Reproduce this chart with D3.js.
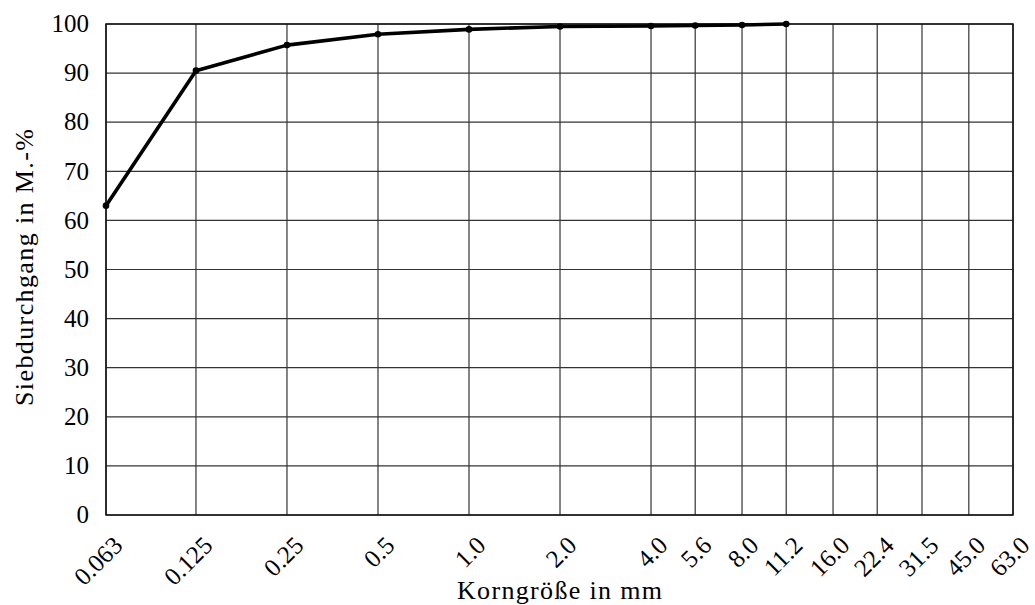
<!DOCTYPE html>
<html>
<head>
<meta charset="utf-8">
<script src="https://cdn.jsdelivr.net/npm/d3@7"></script>
<style>
  body { margin: 0; background: white; }
  text { font-family: "Liberation Serif", "DejaVu Serif", serif; fill: #000; }
</style>
</head>
<body>
<script>
// sieve sizes (mm) and passing percentages
var sieveSizes = [0.063, 0.125, 0.25, 0.5, 1.0, 2.0, 4.0, 5.6, 8.0, 11.2, 16.0, 22.4, 31.5, 45.0, 63.0]
var sieveLabels = ["0.063", "0.125", "0.25", "0.5", "1.0", "2.0", "4.0", "5.6", "8.0", "11.2", "16.0", "22.4", "31.5", "45.0", "63.0"]
var curveSizes = [0.063, 0.125, 0.25, 0.5, 1.0, 2.0, 4.0, 5.6, 8.0, 11.2]
var curvePassing = [63.0, 90.5, 95.7, 97.9, 98.9, 99.5, 99.6, 99.7, 99.8, 100]
var yTicks = [0, 10, 20, 30, 40, 50, 60, 70, 80, 90, 100]

var width = 1035
var height = 605
var margin = { left: 106, right: 22, top: 24, bottom: 90 }
var fontSize = 25
var gridColor = "#333"

var svg = d3.select("body")
    .append("svg")
    .attr("width", width)
    .attr("height", height)

var x = d3.scaleLog()
    .domain([0.063, 63])
    .range([margin.left, width - margin.right])

var y = d3.scaleLinear()
    .domain([0, 100])
    .range([height - margin.bottom, margin.top])

// vertical grid lines
svg.append("g")
    .selectAll("line")
    .data(sieveSizes)
    .enter()
    .append("line")
    .attr("x1", (d) => x(d))
    .attr("x2", (d) => x(d))
    .attr("y1", y(0))
    .attr("y2", y(100))
    .attr("stroke", gridColor)
    .attr("stroke-width", 1.2)

// horizontal grid lines
svg.append("g")
    .selectAll("line")
    .data(yTicks)
    .enter()
    .append("line")
    .attr("x1", x(0.063))
    .attr("x2", x(63))
    .attr("y1", (d) => y(d))
    .attr("y2", (d) => y(d))
    .attr("stroke", gridColor)
    .attr("stroke-width", 1.2)

// frame
svg.append("rect")
    .attr("x", x(0.063))
    .attr("y", y(100))
    .attr("width", x(63) - x(0.063))
    .attr("height", y(0) - y(100))
    .attr("fill", "none")
    .attr("stroke", "#111")
    .attr("stroke-width", 1.5)

// y tick labels
svg.append("g")
    .selectAll("text")
    .data(yTicks)
    .enter()
    .append("text")
    .attr("x", x(0.063) - 17)
    .attr("y", (d) => y(d))
    .attr("dy", "0.33em")
    .attr("text-anchor", "end")
    .style("font-size", fontSize + "px")
    .text((d) => d)

// x tick labels, rotated
svg.append("g")
    .selectAll("text")
    .data(sieveSizes)
    .enter()
    .append("text")
    .attr("transform", (d) => "translate(" + (x(d) + 18) + "," + (y(0) + 32) + ") rotate(-45)")
    .attr("text-anchor", "end")
    .style("font-size", fontSize + "px")
    .text((d, i) => sieveLabels[i])

// axis titles (stretched a little, the original face is wider)
svg.append("text")
    .attr("x", (x(0.063) + x(63)) / 2)
    .attr("y", 599)
    .attr("text-anchor", "middle")
    .attr("textLength", 205)
    .attr("lengthAdjust", "spacing")
    .style("font-size", "26px")
    .text("Korngröße in mm")

svg.append("text")
    .attr("transform", "translate(33," + ((y(0) + y(100)) / 2 - 2) + ") rotate(-90)")
    .attr("text-anchor", "middle")
    .attr("textLength", 277)
    .attr("lengthAdjust", "spacing")
    .style("font-size", "26px")
    .text("Siebdurchgang in M.-%")

// grading curve
var curve = curveSizes.map((d, i) => ({ size: d, pass: curvePassing[i] }))

svg.append("path")
    .datum(curve)
    .attr("fill", "none")
    .attr("stroke", "#000")
    .attr("stroke-width", 3.6)
    .attr("stroke-linejoin", "round")
    .attr("d", d3.line().x((d) => x(d.size)).y((d) => y(d.pass)))

svg.append("g")
    .selectAll("circle")
    .data(curve)
    .enter()
    .append("circle")
    .attr("cx", (d) => x(d.size))
    .attr("cy", (d) => y(d.pass))
    .attr("r", 3.3)
    .attr("fill", "#000")
</script>
</body>
</html>
